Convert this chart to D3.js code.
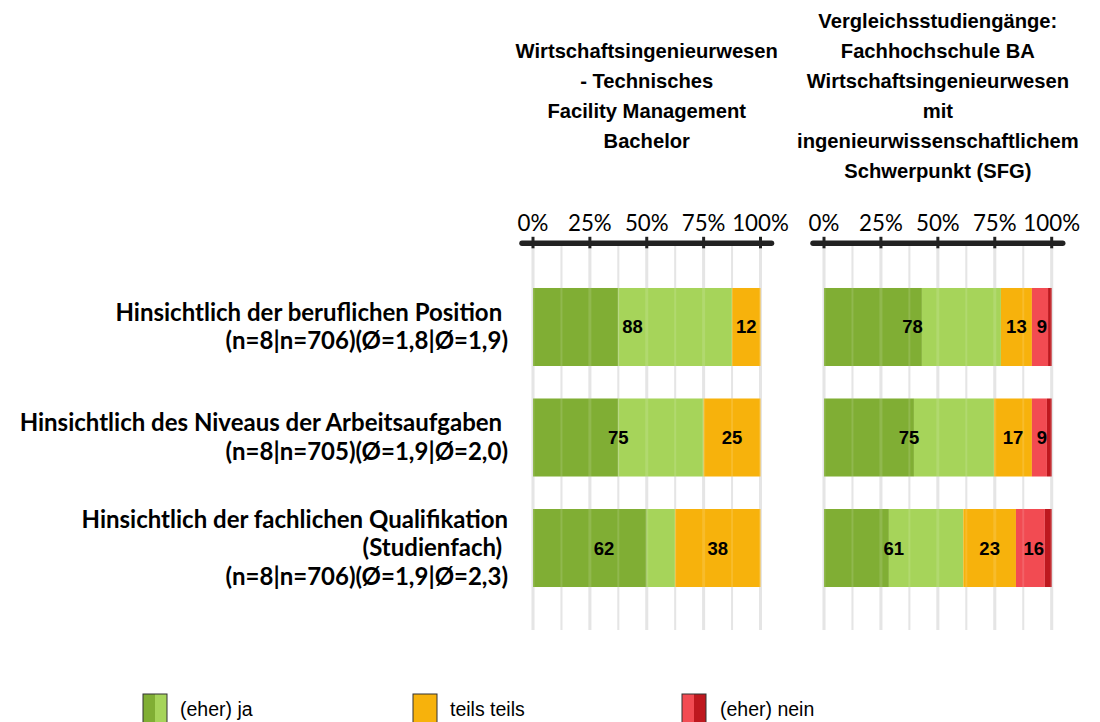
<!DOCTYPE html>
<html>
<head>
<meta charset="utf-8">
<script src="https://cdn.jsdelivr.net/npm/d3@7"></script>
<style>
  body { margin: 0; background: #fff; }
  .title { font-family: "Liberation Sans", Arial, sans-serif; font-weight: bold; font-size: 20.2px; fill: #000; }
  .cat { font-family: Lato, sans-serif; font-weight: bold; font-size: 24px; fill: #000; }
  .tick-label { font-family: Lato, sans-serif; font-size: 22.3px; fill: #000; }
  .val { font-family: "Liberation Sans", Arial, sans-serif; font-weight: bold; font-size: 18.5px; fill: #000; }
  .legend { font-family: "Liberation Sans", Arial, sans-serif; font-size: 19.5px; fill: #000; }
</style>
</head>
<body>
<div id="viz"></div>
<script>
// rows
const categories = ['pos', 'niveau', 'quali'];
const catLines = [
  ['Hinsichtlich der beruflichen Position ', '(n=8|n=706)(Ø=1,8|Ø=1,9)'],
  ['Hinsichtlich des Niveaus der Arbeitsaufgaben ', '(n=8|n=705)(Ø=1,9|Ø=2,0)'],
  ['Hinsichtlich der fachlichen Qualifikation', '(Studienfach) ', '(n=8|n=706)(Ø=1,9|Ø=2,3)']
];

const ticks = [0, 25, 50, 75, 100];
const minorTicks = [12.5, 37.5, 62.5, 87.5];

// left panel: Wirtschaftsingenieurwesen - Technisches Facility Management
const leftTitle = ['Wirtschaftsingenieurwesen', '- Technisches', 'Facility Management', 'Bachelor'];
const leftJa = [37.5, 37.5, 50];
const leftEherJa = [50, 37.5, 12.5];
const leftTeils = [12.5, 25, 37.5];
const leftEherNein = [0, 0, 0];
const leftNein = [0, 0, 0];
const leftJaLabel = [88, 75, 62];
const leftTeilsLabel = [12, 25, 38];
const leftNeinLabel = [null, null, null];

// right panel: Vergleichsstudiengaenge
const rightTitle = ['Vergleichsstudiengänge:', 'Fachhochschule BA', 'Wirtschaftsingenieurwesen', 'mit', 'ingenieurwissenschaftlichem', 'Schwerpunkt (SFG)'];
const rightJa = [43, 39.5, 28.5];
const rightEherJa = [34.7, 35.2, 32.7];
const rightTeils = [13.6, 16.6, 23.1];
const rightEherNein = [7.1, 6.6, 12.7];
const rightNein = [1.6, 2.1, 3.0];
const rightJaLabel = [78, 75, 61];
const rightTeilsLabel = [13, 17, 23];
const rightNeinLabel = [9, 9, 16];

const legendLabels = ['(eher) ja', 'teils teils', '(eher) nein'];

const colors = {
  ja: '#80ae34', eherJa: '#a6d45a', teils: '#f7b20c', eherNein: '#f24b52', nein: '#be181e'
};
const keys = ['ja', 'eherJa', 'teils', 'eherNein', 'nein'];

const width = 1100, height = 722;

let svg = d3.select('#viz').append('svg')
  .attr('width', width)
  .attr('height', height);

let y = d3.scaleBand()
  .domain(categories)
  .range([255.5, 619.5])
  .padding(0.294);

// category labels
categories.forEach(function(c, i) {
  let lines = catLines[i];
  let cy = y(c) + y.bandwidth() / 2;
  let lh = 28.5;
  let t = svg.append('text')
    .attr('class', 'cat')
    .attr('text-anchor', 'end')
    .attr('xml:space', 'preserve');
  lines.forEach(function(l, j) {
    t.append('tspan')
      .attr('x', 508)
      .attr('y', cy + (j - (lines.length - 1) / 2) * lh + 8)
      .text(l);
  });
});

function buildPanel(x0, x1, title, titleTop, series, labels) {
  let x = d3.scaleLinear().domain([0, 100]).range([x0, x1]);

  // title
  let tcx = (x0 + x1) / 2;
  title.forEach(function(l, j) {
    svg.append('text')
      .attr('class', 'title')
      .attr('text-anchor', 'middle')
      .attr('x', tcx)
      .attr('y', titleTop + j * 30)
      .text(l);
  });

  let g = svg.append('g');

  // gridlines under bars
  g.selectAll('.grid')
    .data(ticks.concat(minorTicks))
    .join('line')
    .attr('x1', d => x(d)).attr('x2', d => x(d))
    .attr('y1', 245).attr('y2', 630)
    .attr('stroke', '#e2e2e2')
    .attr('stroke-width', d => ticks.includes(d) ? 3 : 2);

  // stacked bars
  let rows = categories.map(function(c, i) {
    let o = { cat: c };
    keys.forEach(k => o[k] = series[k][i]);
    return o;
  });
  let stack = d3.stack().keys(keys)(rows);

  g.selectAll('.layer')
    .data(stack)
    .join('g')
    .attr('fill', d => colors[d.key])
    .selectAll('rect')
    .data(d => d)
    .join('rect')
    .attr('x', d => x(d[0]))
    .attr('y', d => y(d.data.cat))
    .attr('width', d => Math.max(0, x(d[1]) - x(d[0])))
    .attr('height', y.bandwidth());

  // faint gridlines over bars
  g.selectAll('.grid-over')
    .data(ticks.concat(minorTicks))
    .join('line')
    .attr('x1', d => x(d)).attr('x2', d => x(d))
    .attr('y1', 245).attr('y2', 630)
    .attr('stroke', '#ffffff')
    .attr('stroke-opacity', 0.13)
    .attr('stroke-width', d => ticks.includes(d) ? 3 : 2);

  // value labels
  categories.forEach(function(c, i) {
    let cy = y(c) + y.bandwidth() / 2 + 6.5;
    let ja = series.ja[i] + series.eherJa[i];
    let te = series.teils[i];
    let ne = series.eherNein[i] + series.nein[i];
    let parts = [
      [0, ja, labels.ja[i]],
      [ja, ja + te, labels.teils[i]],
      [ja + te, ja + te + ne, labels.nein[i]]
    ];
    parts.forEach(function(p) {
      if (p[2] == null) return;
      g.append('text')
        .attr('class', 'val')
        .attr('text-anchor', 'middle')
        .attr('x', x((p[0] + p[1]) / 2))
        .attr('y', cy)
        .text(p[2]);
    });
  });

  // axis on top
  let axisY = 243.3;
  g.append('line')
    .attr('x1', x(0) - 11).attr('x2', x(100) + 11)
    .attr('y1', axisY).attr('y2', axisY)
    .attr('stroke', '#222')
    .attr('stroke-width', 5.5)
    .attr('stroke-linecap', 'round');

  g.selectAll('.tick')
    .data(ticks)
    .join('line')
    .attr('x1', d => x(d)).attr('x2', d => x(d))
    .attr('y1', axisY - 6.5).attr('y2', axisY + 5)
    .attr('stroke', '#222')
    .attr('stroke-width', 3);

  g.selectAll('.tick-label')
    .data(ticks)
    .join('text')
    .attr('class', 'tick-label')
    .attr('text-anchor', 'middle')
    .attr('x', d => x(d))
    .attr('y', 230.5)
    .text(d => d + '%');
}

buildPanel(533, 760.5, leftTitle, 58,
  { ja: leftJa, eherJa: leftEherJa, teils: leftTeils, eherNein: leftEherNein, nein: leftNein },
  { ja: leftJaLabel, teils: leftTeilsLabel, nein: leftNeinLabel });

buildPanel(824, 1051.7, rightTitle, 28,
  { ja: rightJa, eherJa: rightEherJa, teils: rightTeils, eherNein: rightEherNein, nein: rightNein },
  { ja: rightJaLabel, teils: rightTeilsLabel, nein: rightNeinLabel });

// legend
let legendX = [143, 413, 682];
let legendText = [180, 450, 720];
let legendSwatch = [['ja', 'eherJa'], ['teils', 'teils'], ['eherNein', 'nein']];
legendLabels.forEach(function(l, i) {
  let lg = svg.append('g');
  let w = 24;
  legendSwatch[i].forEach(function(k, j) {
    lg.append('rect')
      .attr('x', legendX[i] + j * w / 2)
      .attr('y', 694)
      .attr('width', w / 2)
      .attr('height', 32)
      .attr('fill', colors[k]);
  });
  lg.append('rect')
    .attr('x', legendX[i])
    .attr('y', 694)
    .attr('width', w)
    .attr('height', 32)
    .attr('fill', 'none')
    .attr('stroke', '#333')
    .attr('stroke-width', 1);
  lg.append('text')
    .attr('class', 'legend')
    .attr('x', legendText[i])
    .attr('y', 716)
    .text(l);
});
</script>
</body>
</html>
